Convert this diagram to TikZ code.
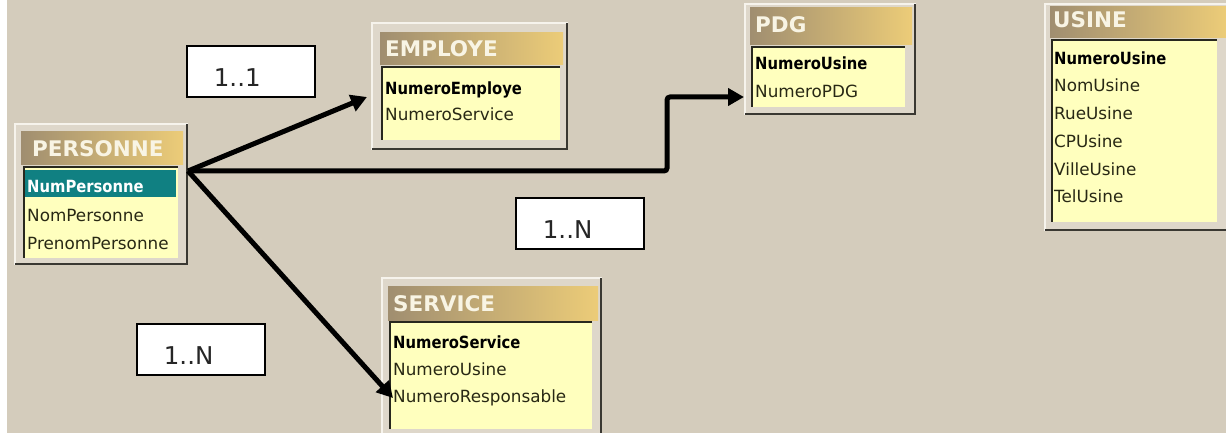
\documentclass[tikz,border=0pt]{standalone}
\usepackage{fontspec}
\setmainfont{DejaVu Sans}
\newfontfamily\keyfont[FakeStretch=0.88]{DejaVu Sans}
\usetikzlibrary{arrows.meta}
\definecolor{bg}{RGB}{212,204,188}
\definecolor{framecol}{RGB}{222,215,202}
\definecolor{framedark}{RGB}{58,56,50}
\definecolor{framelight}{RGB}{246,243,236}
\definecolor{bodycol}{RGB}{255,255,190}
\definecolor{bodyedge}{RGB}{40,40,30}
\definecolor{hdl}{RGB}{160,142,112}
\definecolor{hdr}{RGB}{236,204,120}
\definecolor{hdtext}{RGB}{248,244,228}
\definecolor{tealrow}{RGB}{16,128,130}
\definecolor{rowtext}{RGB}{40,40,20}
\tikzset{
  fld/.style={anchor=base west, inner sep=0pt, font=\fontsize{16.8}{18}\selectfont, text=rowtext},
  keyfld/.style={anchor=base west, inner sep=0pt, font=\keyfont\bfseries\fontsize{16.8}{18}\selectfont, text=black},
  hdrtxt/.style={anchor=base west, inner sep=0pt, font=\bfseries\fontsize{21.5}{24}\selectfont, text=hdtext},
  card/.style={anchor=north west, draw=black, line width=1.8pt, fill=white,
    font=\fontsize{24.5}{28}\selectfont, text=black!85, inner xsep=27pt, inner ysep=0pt,
    text width=74pt, align=left, text height=29.5pt, text depth=0pt, minimum height=51pt},
  conn/.style={line width=5pt, -{Triangle[length=16pt,width=17pt]}},
  framebox/.style={fill=framecol},
  lightedge/.style={draw=framelight, line width=1.5pt},
  darkedge/.style={draw=framedark, line width=2.5pt},
  hdrbar/.style={left color=hdl, right color=hdr},
  bodybox/.style={fill=bodycol},
  bodyline/.style={draw=bodyedge, line width=2pt},
}
\begin{document}
\begin{tikzpicture}[x=1pt,y=-1pt]
\useasboundingbox (0,0) rectangle (1226,438);
\fill[white] (0,0) rectangle (1226,438);
\fill[bg] (7,0) rectangle (1226,433);

% ---------- PERSONNE
\fill[framebox] (15,124) rectangle (188,265);
\draw[lightedge] (15,265) -- (15,124) -- (188,124);
\draw[darkedge] (15,264) -- (187,264) -- (187,124);
\shade[hdrbar] (21,132) rectangle (183,165);
\fill[bodybox] (24,167) rectangle (178,258);
\draw[bodyline] (24,258) -- (24,167) -- (178,167);
\fill[tealrow] (25,170) rectangle (176,197);
\node[hdrtxt] (persH) at (32,157) {PERSONNE};
\node[keyfld, text=white] (persR1) at (27,193) {NumPersonne};
\node[fld] (persR2) at (27,222) {NomPersonne};
\node[fld] (persR3) at (27,250) {PrenomPersonne};

% ---------- EMPLOYE
\fill[framebox] (372,23) rectangle (568,150);
\draw[lightedge] (372,150) -- (372,23) -- (568,23);
\draw[darkedge] (372,149) -- (567,149) -- (567,23);
\shade[hdrbar] (380,33) rectangle (563,65);
\fill[bodybox] (382,67) rectangle (560,140);
\draw[bodyline] (382,140) -- (382,67) -- (560,67);
\node[hdrtxt] (empH) at (385,57) {EMPLOYE};
\node[keyfld] (empR1) at (385,95) {NumeroEmploye};
\node[fld] (empR2) at (385,121) {NumeroService};

% ---------- PDG
\fill[framebox] (745,4) rectangle (916,115);
\draw[lightedge] (745,115) -- (745,4) -- (916,4);
\draw[darkedge] (745,114) -- (915,114) -- (915,4);
\shade[hdrbar] (750,8) rectangle (912,45);
\fill[bodybox] (752,47) rectangle (905,107);
\draw[bodyline] (752,107) -- (752,47) -- (905,47);
\node[hdrtxt] (pdgH) at (755,33) {PDG};
\node[keyfld] (pdgR1) at (755,70) {NumeroUsine};
\node[fld] (pdgR2) at (755,98) {NumeroPDG};

% ---------- USINE
\fill[framebox] (1045,4) rectangle (1226,231);
\draw[lightedge] (1045,231) -- (1045,4) -- (1226,4);
\draw[darkedge] (1045,230) -- (1226,230);
\shade[hdrbar] (1050,7) rectangle (1226,38);
\fill[bodybox] (1052,40) rectangle (1217,222);
\draw[bodyline] (1052,222) -- (1052,40) -- (1217,40);
\node[hdrtxt] (usiH) at (1053,28) {USINE};
\node[keyfld] (usiR1) at (1054,65) {NumeroUsine};
\node[fld] (usiR2) at (1054,92) {NomUsine};
\node[fld] (usiR3) at (1054,120) {RueUsine};
\node[fld] (usiR4) at (1054,148) {CPUsine};
\node[fld] (usiR5) at (1054,176) {VilleUsine};
\node[fld] (usiR6) at (1054,203) {TelUsine};

% ---------- SERVICE
\fill[framebox] (382,278) rectangle (602,433);
\draw[lightedge] (382,433) -- (382,278) -- (602,278);
\draw[darkedge] (601,278) -- (601,433);
\shade[hdrbar] (388,287) rectangle (598,320);
\fill[bodybox] (390,322) rectangle (592,429);
\draw[bodyline] (390,429) -- (390,322) -- (592,322);
\node[hdrtxt] (srvH) at (393,312) {SERVICE};
\node[keyfld] (srvR1) at (393,348) {NumeroService};
\node[fld] (srvR2) at (393,375) {NumeroUsine};
\node[fld] (srvR3) at (393,402) {NumeroResponsable};

% ---------- cardinality labels
\node[card] (card11) at (186,45) {1..1};
\node[card] (card1Nb) at (515,197) {1..N};
\node[card] (card1Na) at (136,323) {1..N};

% ---------- connectors
\coordinate (pout) at (188,171);
\coordinate (empin) at (367,97);
\coordinate (pdgin) at (744,97);
\coordinate (srvin) at (393,398);
\draw[conn] (pout) -- (empin);
\draw[conn, rounded corners=3pt] (pout) -- ++(479,0) |- (pdgin);
\draw[conn] (pout) -- (srvin);
\end{tikzpicture}
\end{document}
